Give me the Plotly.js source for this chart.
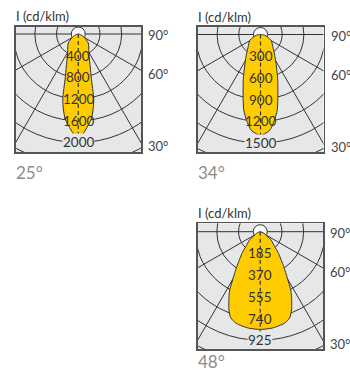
<!DOCTYPE html>
<html><head><meta charset="utf-8">
<script src="https://cdn.plot.ly/plotly-3.0.1.min.js"></script>
<style>html,body{margin:0;padding:0;background:#fff}#chart{width:350px;height:374px}</style>
</head><body><div id="chart"></div>
<script>
// ---- data (angle from nadir in degrees, intensity in cd/klm) ----
const beamLabels = ["25°", "34°", "48°"];
const ringSteps = [400, 300, 185];
const angles25 = [0, 4.3, 8.7, 11, 13.4, 16.5, 20, 27, 48, 62, 75, 90];
const intens25 = [1954, 1775, 1585, 1427, 1232, 846, 647, 435, 248, 118, 40, 0];
const angles34 = [0, 5.5, 9.2, 12.4, 15, 21.4, 33.3, 44.3, 60.5, 69.5, 80, 90];
const intens34 = [1397, 1331, 1203, 1075, 926, 650, 365, 247, 171, 110, 60, 0];
const angles48 = [0, 7, 14.7, 18.9, 21.8, 25.7, 27.6, 31.4, 33.9, 40.8, 44, 52.5, 56, 70, 90];
const intens48 = [833, 828, 808, 776, 719, 615, 561, 423, 360, 232, 178, 116, 77, 25, 0];
const angleTicks = ["90°", "60°", "30°"];
const axisTitle = "I (cd/klm)";

// ---- layout geometry (pixels) ----
const W = 350, H = 374, RING_PX = 21.7;
const boxes = [
  {l: 15.5, r: 141, t: 26.5, b: 152, cy: 34, lab: 172},
  {l: 197.5, r: 323.5, t: 26.7, b: 152.3, cy: 34.5, lab: 172},
  {l: 197.5, r: 323, t: 223.3, b: 349, cy: 231.7, lab: null}
];
const series = [[angles25, intens25], [angles34, intens34], [angles48, intens48]];
const grey = '#e6e7e8', ink = '#333333';

const traces = [], shapes = [], annotations = [];
const layout = {
  width: W, height: H, margin: {l: 0, r: 0, t: 0, b: 0},
  paper_bgcolor: '#ffffff', plot_bgcolor: grey, showlegend: false,
  font: {family: 'Lato, "Open Sans", sans-serif', color: ink}
};
const px2x = p => p / W, px2y = p => 1 - p / H;

boxes.forEach((bx, i) => {
  const n = i + 1, xa = 'x' + (n > 1 ? n : ''), ya = 'y' + (n > 1 ? n : '');
  const step = ringSteps[i], u = step / RING_PX;
  const cx = (bx.l + bx.r) / 2;
  const axCommon = {showgrid: false, zeroline: false, showticklabels: false, ticks: '',
    showline: true, mirror: true, linecolor: '#555', linewidth: 1.5, fixedrange: true};
  layout['xaxis' + (n > 1 ? n : '')] = Object.assign({}, axCommon, {
    domain: [px2x(bx.l), px2x(bx.r)], range: [-(cx - bx.l) * u, (bx.r - cx) * u], anchor: ya});
  layout['yaxis' + (n > 1 ? n : '')] = Object.assign({}, axCommon, {
    domain: [px2y(bx.b), px2y(bx.t)], range: [-(bx.b - bx.cy) * u, (bx.cy - bx.t) * u], anchor: xa});

  // grid rings
  for (let k = 1; k <= 7; k++) {
    const r = k * step;
    shapes.push({type: 'circle', xref: xa, yref: ya, x0: -r, x1: r, y0: -r, y1: r,
      line: {color: ink, width: 1}, layer: 'below'});
  }
  // radial lines
  const R = 10 * step;
  [30, 60].forEach(g => {
    const s = Math.sin(g * Math.PI / 180), c = Math.cos(g * Math.PI / 180);
    [-1, 1].forEach(sg => shapes.push({type: 'line', xref: xa, yref: ya, x0: 0, y0: 0,
      x1: sg * R * s, y1: -R * c, line: {color: ink, width: 1}, layer: 'below'}));
  });
  shapes.push({type: 'line', xref: xa, yref: ya, x0: -R, y0: 0, x1: R, y1: 0,
    line: {color: ink, width: 1}, layer: 'below'});
  // luminaire circle
  const rc = 7 * u;
  shapes.push({type: 'circle', xref: xa, yref: ya, x0: -rc, x1: rc, y0: -rc, y1: rc,
    fillcolor: '#f7f7f7', line: {color: ink, width: 1}, layer: 'below'});
  // dashed nadir axis
  shapes.push({type: 'line', xref: xa, yref: ya, x0: 0, y0: 0, x1: 0, y1: -R,
    line: {color: ink, width: 1.2, dash: '4px,3px'}, layer: 'above'});

  // intensity curve
  const [ang, val] = series[i];
  const xs = [], ys = [];
  for (let j = ang.length - 1; j >= 0; j--) {
    const g = -ang[j] * Math.PI / 180;
    xs.push(val[j] * Math.sin(g)); ys.push(-val[j] * Math.cos(g));
  }
  for (let j = 1; j < ang.length; j++) {
    const g = ang[j] * Math.PI / 180;
    xs.push(val[j] * Math.sin(g)); ys.push(-val[j] * Math.cos(g));
  }
  traces.push({type: 'scatter', mode: 'lines', x: xs, y: ys, xaxis: xa, yaxis: ya,
    fill: 'toself', fillcolor: '#ffcc00', line: {color: ink, width: 1, shape: 'spline', smoothing: 0.6},
    hoverinfo: 'skip'});

  // ring labels
  const imax = Math.max.apply(null, val);
  for (let k = 1; k <= 5; k++) {
    const v = k * step;
    annotations.push({xref: xa, yref: ya, x: 0, y: -v, text: String(v), showarrow: false,
      font: {size: 13.5, color: ink}, xanchor: 'center', yanchor: 'middle',
      bgcolor: v > imax ? grey : 'rgba(0,0,0,0)', borderpad: 0});
  }
  // angle labels on right
  const angY = [bx.cy + 1, bx.cy + 40, bx.cy + 112];
  angleTicks.forEach((t, j) => annotations.push({xref: 'paper', yref: 'paper',
    x: px2x(bx.r + 5), y: px2y(angY[j]), text: t, showarrow: false, xanchor: 'left', yanchor: 'middle',
    font: {size: 13, color: '#444'}}));
  // title
  annotations.push({xref: 'paper', yref: 'paper', x: px2x(bx.l - 2), y: px2y(bx.t - 10),
    text: axisTitle, showarrow: false, xanchor: 'left', yanchor: 'middle', font: {size: 13, color: ink}});
  // beam angle label
  annotations.push({xref: 'paper', yref: 'paper', x: px2x(bx.l - 2),
    y: bx.lab === null ? 0 : px2y(bx.lab),
    text: beamLabels[i], showarrow: false, xanchor: 'left', yanchor: bx.lab === null ? 'bottom' : 'middle',
    font: {size: 17, color: '#8c8c8c'}});
});

layout.shapes = shapes;
layout.annotations = annotations;
Plotly.newPlot('chart', traces, layout, {staticPlot: true, displayModeBar: false});
</script></body></html>
